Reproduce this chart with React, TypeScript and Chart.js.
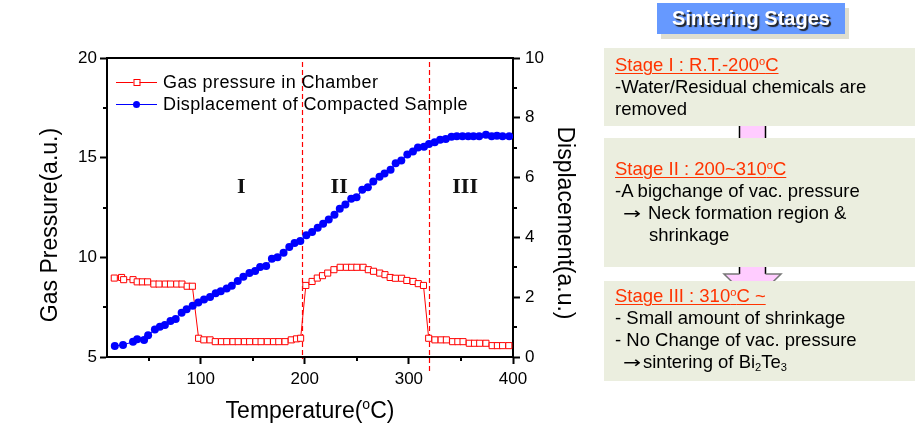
import React, { useEffect, useRef } from 'react';
import { Chart, registerables } from 'chart.js';

Chart.register(...registerables);

const FONT = '"Liberation Sans", Arial, Helvetica, sans-serif';

// ---- data ----
const pressureTemps = [17, 24, 26, 35, 39, 44, 49, 55, 60, 66, 71, 77, 82, 87, 92,
  98, 103, 109, 114, 120, 125, 131, 136, 142, 147, 153, 158, 164, 170, 175, 181, 187, 192, 196,
  201, 207, 212, 217, 222, 228, 234, 240, 245, 250, 256, 261, 266, 272, 277, 282, 287, 293, 298, 304, 309, 314,
  319, 325, 331, 336, 342, 347, 352, 358, 363, 368, 374, 380, 385, 390, 396];
const pressureValues = [8.96, 8.99, 8.88, 8.88, 8.77, 8.77, 8.77, 8.66, 8.66, 8.66, 8.66, 8.66, 8.66, 8.55, 8.55,
  5.94, 5.86, 5.86, 5.77, 5.77, 5.77, 5.77, 5.77, 5.77, 5.77, 5.77, 5.77, 5.77, 5.77, 5.77, 5.77, 5.86, 5.91, 5.94,
  8.59, 8.79, 8.96, 9.08, 9.21, 9.38, 9.5, 9.5, 9.5, 9.5, 9.5, 9.38, 9.3, 9.21, 9.13, 8.99, 8.95, 8.95, 8.84, 8.79, 8.68, 8.59,
  5.94, 5.86, 5.86, 5.86, 5.77, 5.77, 5.77, 5.69, 5.69, 5.69, 5.69, 5.57, 5.57, 5.57, 5.57];

const dispTemps = [17.5, 25.4, 35, 39, 45.6, 49.5, 56, 60.8, 65.6, 71, 76, 81.7, 86.5, 92.3, 97.7,
  103.2, 109, 114.4, 119.3, 125, 129.9, 135.6, 141, 146.8, 152.3, 157.1, 162.9, 168.4, 173.8, 179.6,
  185.1, 190.2, 195.7, 201.5, 207, 212.4, 217.6, 223, 228.5, 233.6, 239, 244.6, 249.7, 255.2, 260.6,
  265.8, 271.8, 276.6, 282.4, 287.3, 292.7, 298.5, 303.9, 308.7, 314.5, 319.3, 324.8, 330, 335.4,
  340.9, 346, 351.5, 357, 362, 367.5, 374, 379.5, 384.6, 390, 396.4];
const dispValues = [0.37, 0.4, 0.51, 0.59, 0.57, 0.73, 0.92, 1.01, 1.07, 1.2, 1.27, 1.48, 1.6, 1.71, 1.82,
  1.92, 2.01, 2.13, 2.2, 2.29, 2.38, 2.54, 2.68, 2.81, 2.88, 3.01, 3.04, 3.29, 3.34, 3.49,
  3.68, 3.81, 3.88, 4.07, 4.18, 4.32, 4.46, 4.6, 4.76, 4.96, 5.1, 5.29, 5.34, 5.59, 5.68,
  5.87, 6.03, 6.14, 6.26, 6.48, 6.57, 6.77, 6.87, 7.01, 7.03, 7.12, 7.18, 7.27, 7.29,
  7.37, 7.38, 7.38, 7.38, 7.38, 7.38, 7.43, 7.38, 7.4, 7.38, 7.38];

const xTickValues = [100, 200, 300, 400];
const xMinorTicks = [50, 150, 250, 350];
const leftTickValues = [5, 10, 15, 20];
const leftMinorTicks = [7.5, 12.5, 17.5];
const rightTickValues = [0, 2, 4, 6, 8, 10];
const rightMinorTicks = [1, 3, 5, 7, 9];

const stageBoundaries = [197, 319];
const stageLabels = ['I', 'II', 'III'];
const stageLabelTemps = [139, 233, 354];
const stageLabelLevel = 13.5;

const legendLabels = ['Gas pressure in Chamber', 'Displacement of Compacted Sample'];
const xTitle = ['Temperature(', 'o', 'C)'];
const leftTitle = 'Gas Pressure(a.u.)';
const rightTitle = 'Displacement(a.u.)';

const RED = '#FF0000';
const BLUE = '#0000FF';

const decorPlugin = {
  id: 'decor',
  beforeDatasetsDraw(chart: any) {
    const { ctx, chartArea: a, scales } = chart;
    const x = scales.x;
    ctx.save();
    ctx.strokeStyle = RED;
    ctx.lineWidth = 1.2;
    ctx.setLineDash([5, 3]);
    stageBoundaries.forEach((t, i) => {
      const px = Math.round(x.getPixelForValue(t)) + 0.5;
      ctx.beginPath();
      ctx.moveTo(px, a.top + 4);
      ctx.lineTo(px, a.bottom + (i === 1 ? 14 : 2));
      ctx.stroke();
    });
    ctx.restore();
  },
  afterDraw(chart: any) {
    const { ctx, chartArea: a, scales } = chart;
    const x = scales.x, y = scales.y, y1 = scales.y1;
    ctx.save();
    // top frame
    ctx.strokeStyle = '#000';
    ctx.lineWidth = 2;
    ctx.beginPath();
    ctx.moveTo(a.left - 1, a.top);
    ctx.lineTo(a.right + 1, a.top);
    ctx.stroke();
    // minor ticks
    ctx.lineWidth = 2;
    xMinorTicks.forEach((v) => {
      const px = Math.round(x.getPixelForValue(v));
      ctx.beginPath(); ctx.moveTo(px, a.bottom); ctx.lineTo(px, a.bottom + 4); ctx.stroke();
    });
    leftMinorTicks.forEach((v) => {
      const py = Math.round(y.getPixelForValue(v));
      ctx.beginPath(); ctx.moveTo(a.left, py); ctx.lineTo(a.left - 4, py); ctx.stroke();
    });
    rightMinorTicks.forEach((v) => {
      const py = Math.round(y1.getPixelForValue(v));
      ctx.beginPath(); ctx.moveTo(a.right, py); ctx.lineTo(a.right + 4, py); ctx.stroke();
    });

    // legend
    const rows = [82, 104];
    const lx0 = 116, lx1 = 157, lmid = 136.5;
    ctx.lineWidth = 1;
    ctx.font = `18px ${FONT}`;
    try { (ctx as any).letterSpacing = '0.4px'; } catch (e) { /* ignore */ }
    ctx.textBaseline = 'middle';
    ctx.textAlign = 'left';
    rows.forEach((ry, i) => {
      const col = i === 0 ? RED : BLUE;
      ctx.strokeStyle = col;
      ctx.beginPath(); ctx.moveTo(lx0, ry + 0.5); ctx.lineTo(lx1, ry + 0.5); ctx.stroke();
      if (i === 0) {
        ctx.fillStyle = '#fff';
        ctx.fillRect(lmid - 3, ry - 3, 6, 6);
        ctx.strokeRect(lmid - 3 + 0.5, ry - 3 + 0.5, 6, 6);
      } else {
        ctx.fillStyle = BLUE;
        ctx.beginPath(); ctx.arc(lmid, ry + 0.5, 3.5, 0, Math.PI * 2); ctx.fill();
      }
      ctx.fillStyle = '#000';
      ctx.fillText(legendLabels[i], 163, ry + 1);
    });
    try { (ctx as any).letterSpacing = '0px'; } catch (e) { /* ignore */ }

    // stage labels
    ctx.font = `bold 22px "Liberation Serif", "Times New Roman", serif`;
    ctx.textAlign = 'center';
    ctx.fillStyle = '#111';
    stageLabels.forEach((s, i) => {
      ctx.fillText(s, x.getPixelForValue(stageLabelTemps[i]), y.getPixelForValue(stageLabelLevel));
    });

    // axis titles
    ctx.fillStyle = '#000';
    ctx.font = `23px ${FONT}`;
    ctx.textBaseline = 'middle';
    ctx.save();
    ctx.translate(51, 225);
    ctx.rotate(-Math.PI / 2);
    ctx.textAlign = 'center';
    ctx.fillText(leftTitle, 0, 0);
    ctx.restore();
    ctx.save();
    ctx.translate(564, 223);
    ctx.rotate(Math.PI / 2);
    ctx.textAlign = 'center';
    ctx.fillText(rightTitle, 0, 0);
    ctx.restore();

    // x title with superscript
    ctx.textAlign = 'left';
    ctx.textBaseline = 'alphabetic';
    const big = `23px ${FONT}`, small = `14px ${FONT}`;
    ctx.font = big;
    const w1 = ctx.measureText(xTitle[0]).width;
    const w3 = ctx.measureText(xTitle[2]).width;
    ctx.font = small;
    const w2 = ctx.measureText(xTitle[1]).width;
    const total = w1 + w2 + w3;
    const cx = (a.left + a.right) / 2;
    let sx = cx - total / 2;
    const base = 418;
    ctx.font = big;
    ctx.fillText(xTitle[0], sx, base);
    sx += w1;
    ctx.font = small;
    ctx.fillText(xTitle[1], sx, base - 9);
    sx += w2;
    ctx.font = big;
    ctx.fillText(xTitle[2], sx, base);
    ctx.restore();
  },
};

function ChartCanvas() {
  const ref = useRef<HTMLCanvasElement | null>(null);
  useEffect(() => {
    document.body.style.margin = '0';
    const canvas = ref.current;
    if (!canvas) return;
    const tickFont = { family: FONT, size: 17 };
    const chart = new Chart(canvas, {
      type: 'line',
      data: {
        datasets: [
          {
            label: legendLabels[1],
            data: dispTemps.map((t, i) => ({ x: t, y: dispValues[i] })),
            yAxisID: 'y1',
            borderColor: BLUE,
            backgroundColor: BLUE,
            borderWidth: 1,
            pointStyle: 'circle',
            pointRadius: 4,
            pointBorderWidth: 0,
            pointBackgroundColor: BLUE,
            tension: 0,
            order: 1,
          },
          {
            label: legendLabels[0],
            data: pressureTemps.map((t, i) => ({ x: t, y: pressureValues[i] })),
            yAxisID: 'y',
            borderColor: RED,
            backgroundColor: '#fff',
            borderWidth: 1,
            pointStyle: 'rect',
            pointRadius: 4.3,
            pointBorderWidth: 1,
            pointBorderColor: RED,
            pointBackgroundColor: '#fff',
            tension: 0,
            order: 2,
          },
        ],
      },
      options: {
        responsive: false,
        animation: false,
        devicePixelRatio: 1,
        layout: { padding: { top: 58, left: 0, right: 0, bottom: 0 } },
        plugins: { legend: { display: false }, tooltip: { enabled: false } },
        events: [],
        scales: {
          x: {
            type: 'linear',
            position: 'bottom',
            min: 10,
            max: 400,
            afterFit: (s: any) => { s.height = 75; },
            afterBuildTicks: (s: any) => { s.ticks = xTickValues.map((v) => ({ value: v })); },
            grid: { drawOnChartArea: false, tickLength: 7, tickWidth: 2, tickColor: '#000' },
            border: { color: '#000', width: 2 },
            ticks: { font: tickFont, color: '#000', padding: 5, maxRotation: 0 },
          },
          y: {
            type: 'linear',
            position: 'left',
            min: 5,
            max: 20,
            afterFit: (s: any) => { s.width = 107; },
            afterBuildTicks: (s: any) => { s.ticks = leftTickValues.map((v) => ({ value: v })); },
            grid: { drawOnChartArea: false, tickLength: 7, tickWidth: 2, tickColor: '#000' },
            border: { color: '#000', width: 2 },
            ticks: { font: tickFont, color: '#000', padding: 3 },
          },
          y1: {
            type: 'linear',
            position: 'right',
            min: 0,
            max: 10,
            afterFit: (s: any) => { s.width = 87; },
            afterBuildTicks: (s: any) => { s.ticks = rightTickValues.map((v) => ({ value: v })); },
            grid: { drawOnChartArea: false, tickLength: 7, tickWidth: 2, tickColor: '#000' },
            border: { color: '#000', width: 2 },
            ticks: { font: tickFont, color: '#000', padding: 5 },
          },
        },
      },
      plugins: [decorPlugin],
    } as any);
    return () => chart.destroy();
  }, []);
  return (
    <canvas
      ref={ref}
      width={600}
      height={432}
      style={{ position: 'absolute', left: 0, top: 0, width: 600, height: 432 }}
    />
  );
}

const BOX_BG = '#EBEEDF';
const HEAD = '#FF3300';

function TextLine({ baseline, left, children, style }: any) {
  return (
    <div
      style={{
        position: 'absolute',
        left,
        top: baseline - 17.4,
        fontSize: 18.5,
        lineHeight: '22px',
        whiteSpace: 'nowrap',
        color: '#000',
        ...style,
      }}
    >
      {children}
    </div>
  );
}

function Arrow({ width }: any) {
  return (
    <span style={{ display: 'inline-block', width, whiteSpace: 'nowrap' }}>
      <span
        style={{
          display: 'inline-block',
          fontFamily: '"DejaVu Sans", sans-serif',
          fontSize: '0.9em',
          transform: 'scaleX(1.3)',
          transformOrigin: 'left center',
        }}
      >
        →
      </span>
    </span>
  );
}

const supStyle: any = { fontSize: '0.6em', position: 'relative', top: '-0.55em' };
const subStyle: any = { fontSize: '0.6em', position: 'relative', top: '0.3em' };
const headStyle: any = { color: HEAD, textDecoration: 'underline', textDecorationThickness: '1px', textUnderlineOffset: '2px' };

function Panel() {
  return (
    <>
      {/* connectors */}
      <svg width={915} height={432} style={{ position: 'absolute', left: 0, top: 0 }}>
        <rect x={739.5} y={120} width={26} height={22} fill="#FFCCFF" />
        <line x1={739.5} y1={120} x2={739.5} y2={142} stroke="#000" strokeWidth={1.5} />
        <line x1={765.5} y1={120} x2={765.5} y2={142} stroke="#000" strokeWidth={1.5} />
        <polygon points="739.5,260 765.5,260 765.5,274 781,274 752.5,302 724,274 739.5,274" fill="#FFCCFF" />
        <line x1={739.5} y1={260} x2={739.5} y2={274} stroke="#000" strokeWidth={1.5} />
        <line x1={765.5} y1={260} x2={765.5} y2={274} stroke="#000" strokeWidth={1.5} />
        <polyline points="739.5,274 724,274 752.5,302 781,274 765.5,274" fill="none" stroke="#777" strokeWidth={1.5} />
      </svg>
      {/* title */}
      <div
        style={{
          position: 'absolute', left: 657, top: 3, width: 188, height: 31,
          background: '#6699FF', boxShadow: '4px 5px 0 #DEDED0',
          color: '#fff', fontWeight: 'bold', fontSize: 20, lineHeight: '31px', textAlign: 'center',
          textShadow: '2px 2px 1px #222',
        }}
      >
        Sintering Stages
      </div>
      {/* boxes */}
      <div style={{ position: 'absolute', left: 604, top: 48, width: 311, height: 78, background: BOX_BG }} />
      <div style={{ position: 'absolute', left: 604, top: 138, width: 311, height: 129, background: BOX_BG }} />
      <div style={{ position: 'absolute', left: 604, top: 281, width: 311, height: 100, background: BOX_BG }} />

      <TextLine baseline={71} left={615}><span style={headStyle}>Stage I : R.T.-200<span style={supStyle}>o</span>C</span></TextLine>
      <TextLine baseline={93} left={615}>-Water/Residual chemicals are</TextLine>
      <TextLine baseline={115} left={615}>removed</TextLine>

      <TextLine baseline={175} left={615}><span style={headStyle}>Stage II : 200~310<span style={supStyle}>o</span>C</span></TextLine>
      <TextLine baseline={197} left={615}>-A bigchange of vac. pressure</TextLine>
      <TextLine baseline={219} left={623}><Arrow width={25} />Neck formation region &amp;</TextLine>
      <TextLine baseline={241} left={649}>shrinkage</TextLine>

      <TextLine baseline={302} left={615}><span style={headStyle}>Stage III : 310<span style={supStyle}>o</span>C ~</span></TextLine>
      <TextLine baseline={324} left={615}>- Small amount of shrinkage</TextLine>
      <TextLine baseline={346} left={615}>- No Change of vac. pressure</TextLine>
      <TextLine baseline={368} left={623}><Arrow width={20} />sintering of Bi<span style={subStyle}>2</span>Te<span style={subStyle}>3</span></TextLine>
    </>
  );
}

export default function App() {
  return (
    <div style={{ position: 'relative', width: 915, height: 432, overflow: 'hidden', background: '#fff', fontFamily: FONT }}>
      <ChartCanvas />
      <Panel />
    </div>
  );
}
